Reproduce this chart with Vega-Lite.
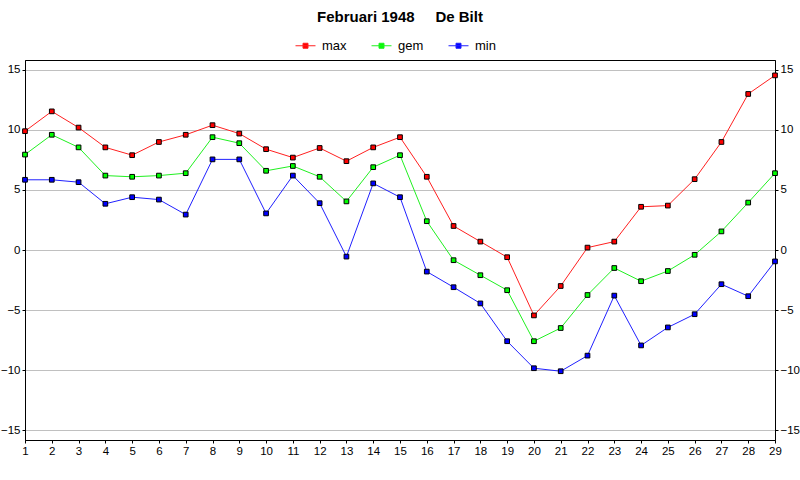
{
  "$schema": "https://vega.github.io/schema/vega-lite/v6.json",
  "width": 750,
  "height": 380,
  "autosize": "none",
  "padding": {"left": 25, "top": 60, "right": 25, "bottom": 40},
  "background": "white",
  "title": {
    "text": "Februari 1948\u00a0\u00a0\u00a0\u00a0\u00a0De Bilt",
    "font": "Liberation Sans",
    "fontSize": 15,
    "fontWeight": "bold",
    "color": "black",
    "anchor": "middle",
    "offset": 10
  },
  "config": {
    "view": {"stroke": "black", "strokeWidth": 1},
    "axis": {
      "labelFont": "Liberation Sans",
      "labelFontSize": 11.5,
      "labelColor": "black",
      "domainColor": "black",
      "tickColor": "black",
      "tickSize": 3,
      "labelPadding": 2,
      "title": null
    }
  },
  "data": {
    "values": [
      {"day": 1, "max": 9.9, "gem": 7.95, "min": 5.85},
      {"day": 2, "max": 11.55, "gem": 9.6, "min": 5.85},
      {"day": 3, "max": 10.2, "gem": 8.55, "min": 5.65},
      {"day": 4, "max": 8.55, "gem": 6.2, "min": 3.85},
      {"day": 5, "max": 7.9, "gem": 6.1, "min": 4.4},
      {"day": 6, "max": 9.0, "gem": 6.2, "min": 4.2},
      {"day": 7, "max": 9.6, "gem": 6.4, "min": 2.95},
      {"day": 8, "max": 10.4, "gem": 9.4, "min": 7.55},
      {"day": 9, "max": 9.7, "gem": 8.9, "min": 7.55},
      {"day": 10, "max": 8.4, "gem": 6.6, "min": 3.05},
      {"day": 11, "max": 7.7, "gem": 7.0, "min": 6.2},
      {"day": 12, "max": 8.5, "gem": 6.1, "min": 3.9},
      {"day": 13, "max": 7.4, "gem": 4.05, "min": -0.55},
      {"day": 14, "max": 8.55, "gem": 6.9, "min": 5.55},
      {"day": 15, "max": 9.4, "gem": 7.9, "min": 4.4},
      {"day": 16, "max": 6.1, "gem": 2.4, "min": -1.8},
      {"day": 17, "max": 2.0, "gem": -0.85, "min": -3.1},
      {"day": 18, "max": 0.7, "gem": -2.1, "min": -4.45},
      {"day": 19, "max": -0.6, "gem": -3.35, "min": -7.6},
      {"day": 20, "max": -5.45, "gem": -7.6, "min": -9.85},
      {"day": 21, "max": -3.0, "gem": -6.5, "min": -10.1},
      {"day": 22, "max": 0.2, "gem": -3.75, "min": -8.8},
      {"day": 23, "max": 0.7, "gem": -1.5, "min": -3.8},
      {"day": 24, "max": 3.6, "gem": -2.6, "min": -7.95},
      {"day": 25, "max": 3.7, "gem": -1.75, "min": -6.45},
      {"day": 26, "max": 5.9, "gem": -0.4, "min": -5.35},
      {"day": 27, "max": 9.0, "gem": 1.55, "min": -2.85},
      {"day": 28, "max": 13.0, "gem": 3.95, "min": -3.85},
      {"day": 29, "max": 14.55, "gem": 6.4, "min": -0.95}
    ]
  },
  "transform": [{"fold": ["max", "gem", "min"], "as": ["reeks", "temp"]}],
  "encoding": {
    "x": {
      "field": "day",
      "type": "quantitative",
      "scale": {"domain": [1, 29], "nice": false, "zero": false},
      "axis": {
        "values": [1, 2, 3, 4, 5, 6, 7, 8, 9, 10, 11, 12, 13, 14, 15, 16, 17, 18, 19, 20, 21, 22, 23, 24, 25, 26, 27, 28, 29],
        "format": "d",
        "grid": false,
        "labelFlush": false,
        "labelOverlap": false
      }
    },
    "y": {
      "field": "temp",
      "type": "quantitative",
      "scale": {"domain": [-15.83, 15.83], "nice": false, "zero": false}
    }
  },
  "layer": [
    {
      "mark": {"type": "line", "strokeWidth": 1},
      "encoding": {
        "y": {
          "field": "temp",
          "type": "quantitative",
          "axis": {"orient": "left", "values": [-15, -10, -5, 0, 5, 10, 15], "grid": true, "gridColor": "#c0c0c0", "gridOpacity": 1, "labelFlush": false}
        },
        "color": {
          "field": "reeks",
          "type": "nominal",
          "sort": ["max", "gem", "min"],
          "scale": {"domain": ["max", "gem", "min"], "range": ["#ff2020", "#20f020", "#2020ff"]},
          "legend": {
            "title": null,
            "orient": "none",
            "direction": "horizontal",
            "legendX": 270,
            "legendY": -25,
            "columns": 3,
            "columnPadding": 22,
            "symbolType": "M-1,0H1M-0.25,-0.25H0.25V0.25H-0.25Z",
            "symbolSize": 400,
            "symbolStrokeWidth": 1,
            "labelFont": "Liberation Sans",
            "labelFontSize": 13,
            "labelColor": "black",
            "labelOffset": 6,
            "encode": {"symbols": {"update": {"fill": {"scale": "color", "field": "value"}}}}
          }
        }
      }
    },
    {
      "mark": {"type": "point", "shape": "square", "filled": true, "size": 22, "stroke": "black", "strokeWidth": 1, "opacity": 1},
      "encoding": {
        "y": {
          "field": "temp",
          "type": "quantitative",
          "axis": {"orient": "right", "values": [-15, -10, -5, 0, 5, 10, 15], "grid": false, "labelFlush": false}
        },
        "fill": {
          "field": "reeks",
          "type": "nominal",
          "scale": {"domain": ["max", "gem", "min"], "range": ["#ff0000", "#00ff00", "#0000ff"]},
          "legend": null
        }
      }
    }
  ],
  "resolve": {"axis": {"y": "independent"}}
}
